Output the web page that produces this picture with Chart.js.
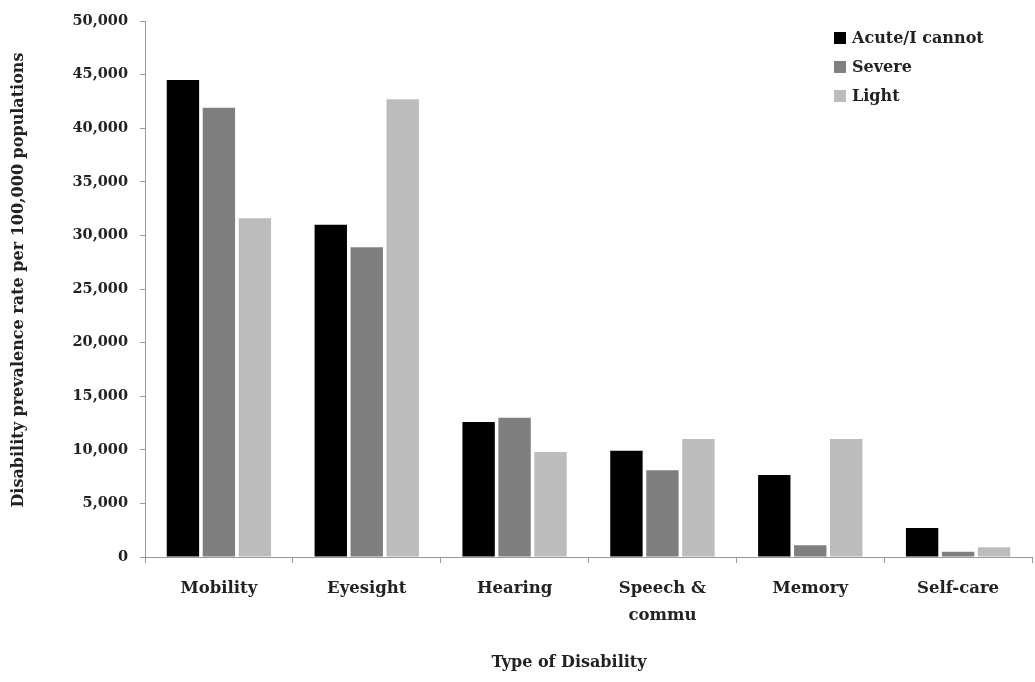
<!DOCTYPE html>
<html>
<head>
<meta charset="utf-8">
<script src="https://cdn.jsdelivr.net/npm/chart.js@4.4.1/dist/chart.umd.min.js"></script>
<style>
  html, body { margin: 0; padding: 0; background: #ffffff; }
  #wrap { width: 1035px; height: 682px; position: relative; }
</style>
</head>
<body>
<div id="wrap"><canvas id="c" width="1035" height="682"></canvas></div>
<script>
const categories = ['Mobility', 'Eyesight', 'Hearing', ['Speech &', 'commu'], 'Memory', 'Self-care'];
const seriesNames = ['Acute/I cannot', 'Severe', 'Light'];
const acuteValues = [44500, 31000, 12600, 9900, 7650, 2700];
const severeValues = [41900, 28900, 13000, 8100, 1100, 500];
const lightValues = [31600, 42700, 9800, 11000, 11000, 900];
const yTicks = [0, 5000, 10000, 15000, 20000, 25000, 30000, 35000, 40000, 45000, 50000];
const seriesColors = ['#000000', '#7f7f7f', '#bcbcbc'];
const xTitle = 'Type of Disability';
const yTitle = 'Disability prevalence rate per 100,000 populations';

const serif = "'DejaVu Serif', 'Liberation Serif', serif";
const textColor = '#222222';

const annotationsPlugin = {
  id: 'legendAndTitles',
  afterDraw(chart) {
    const ctx = chart.ctx;
    ctx.save();
    ctx.textBaseline = 'middle';
    // legend
    chart.data.datasets.forEach((ds, i) => {
      const y = 38 + i * 29;
      ctx.fillStyle = ds.backgroundColor;
      ctx.fillRect(834, y - 6, 12, 12);
      ctx.fillStyle = textColor;
      ctx.font = "bold 16px " + serif;
      ctx.textAlign = 'left';
      ctx.fillText(ds.label, 852, y + 1);
    });
    // x axis title
    ctx.font = "bold 16px " + serif;
    ctx.textAlign = 'center';
    ctx.fillStyle = textColor;
    ctx.fillText(xTitle, 569, 663);
    // y axis title
    ctx.translate(19, 280);
    ctx.rotate(-Math.PI / 2);
    ctx.fillText(yTitle, 0, 0);
    ctx.restore();
  }
};

new Chart(document.getElementById('c'), {
  type: 'bar',
  data: {
    labels: categories,
    datasets: [
      { label: seriesNames[0], data: acuteValues, backgroundColor: seriesColors[0] },
      { label: seriesNames[1], data: severeValues, backgroundColor: seriesColors[1] },
      { label: seriesNames[2], data: lightValues, backgroundColor: seriesColors[2] }
    ]
  },
  options: {
    responsive: false,
    animation: false,
    devicePixelRatio: 1,
    layout: { padding: { top: 21, right: 3, bottom: 0, left: 0 } },
    datasets: { bar: { categoryPercentage: 0.73, barPercentage: 0.9 } },
    plugins: {
      legend: { display: false },
      tooltip: { enabled: false }
    },
    scales: {
      x: {
        afterFit(scale) { scale.height = 125; },
        grid: { display: true, offset: true, drawOnChartArea: false, drawTicks: true, tickLength: 6, color: '#9a9a9a' },
        border: { display: true, color: '#9a9a9a', width: 1 },
        ticks: { color: textColor, font: { family: serif, size: 16.5, weight: 'bold', lineHeight: 1.6 }, padding: 13, maxRotation: 0, autoSkip: false },
        title: { display: false }
      },
      y: {
        min: 0,
        max: 50000,
        afterFit(scale) { scale.width = 145; },
        afterBuildTicks(scale) { scale.ticks = yTicks.map(v => ({ value: v })); },
        grid: { display: true, drawOnChartArea: false, drawTicks: true, tickLength: 5, color: '#9a9a9a' },
        border: { display: true, color: '#9a9a9a', width: 1 },
        ticks: {
          color: textColor, font: { family: serif, size: 14.5, weight: 'bold' }, padding: 12,
          callback: (v) => v.toLocaleString('en-US')
        },
        title: { display: false }
      }
    }
  },
  plugins: [annotationsPlugin]
});
</script>
</body>
</html>
